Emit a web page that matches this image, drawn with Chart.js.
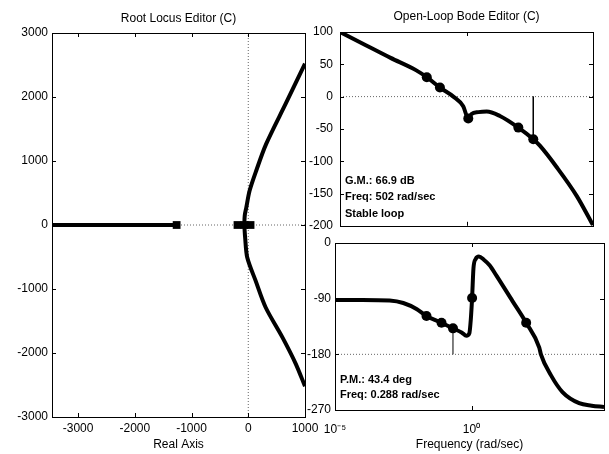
<!DOCTYPE html>
<html>
<head>
<meta charset="utf-8">
<script src="https://cdn.jsdelivr.net/npm/chart.js@4.4.1/dist/chart.umd.min.js"></script>
<style>
body { margin: 0; background: #fff; width: 609px; height: 454px; overflow: hidden; position: relative; }
canvas { position: absolute; }
</style>
</head>
<body>
<canvas id="locus" width="330" height="454" style="left:0;top:0"></canvas>
<canvas id="mag" width="319" height="240" style="left:290px;top:0"></canvas>
<canvas id="phase" width="319" height="224" style="left:290px;top:230px"></canvas>
<script>
// ---- root locus (real part / imaginary part) ----
const realAxisRe = [-3460, -1263];
const upperRe = [-70, -62, -35, 23, 140, 316, 660, 1000];
const upperIm = [0, 150, 272, 534, 848, 1267, 1895, 2520];
const lowerRe = [-70, -55, -18, 129, 305, 600, 835, 1000];
const lowerIm = [0, -200, -508, -870, -1285, -1752, -2165, -2520];
const squareRe = [-1263, -190, -70, 40];
const locusXTicks = [-3000, -2000, -1000, 0, 1000];
const locusYTicks = [-3000, -2000, -1000, 0, 1000, 2000, 3000];

// ---- open-loop bode, frequency as log10(rad/sec) ----
const magExp = [-5, -4, -3, -2, -1.57, -1.05, -0.52, -0.13, 0.07, 0.2, 0.47, 0.8, 1.32, 2.05, 2.64, 2.9, 3.56, 4.36, 5];
const magDb = [100, 80, 60, 41, 30, 14, 0, -15, -34, -27, -24, -23, -30, -48, -66, -76, -109, -154, -199];
const magMarkExp = [-1.57, -1.05, 0.07, 2.05, 2.64];
const magMarkDb = [30, 14, -34, -48, -66];

const phaseExp = [-5, -4, -3, -2.5, -2, -1.65, -1.1, -0.68, -0.35, -0.19, -0.08, -0.03, 0.02, 0.07, 0.15, 0.27, 0.45, 0.66, 0.9, 1.5, 2.0, 2.48, 2.54, 2.91, 3.33, 3.94, 4.4, 4.85];
const phaseDeg = [-92, -92, -93, -97, -107, -118, -129, -138, -145, -150, -146, -125, -89, -41, -26, -22, -27, -36, -52, -94, -129, -169, -180, -214, -241, -259, -263, -265];
const phaseMarkExp = [-1.65, -1.1, -0.68, 0.02, 2.0];
const phaseMarkDeg = [-118, -129, -138, -89, -129];

const gmExp = 2.64, gmDb = -66;     // gain margin marker
const pmExp = -0.68, pmDeg = -138;  // phase margin marker

const FONT = '"Liberation Sans", Arial, sans-serif';
Chart.defaults.font.family = FONT;
Chart.defaults.font.size = 12;
Chart.defaults.color = '#000';

const pts = (xs, ys) => xs.map((x, i) => ({x: x, y: ys[i]}));
const logPts = (es, ys) => es.map((e, i) => ({x: Math.pow(10, e), y: ys[i]}));

function curve(data, w, smooth) {
  const ds = {data: data, showLine: true, borderColor: '#000', borderWidth: w || 4, pointRadius: 0, tension: 0};
  if (smooth === 'mono') ds.cubicInterpolationMode = 'monotone';
  else if (smooth) ds.tension = smooth;
  return ds;
}
function dotted(data) {
  return {data: data, showLine: true, borderColor: '#666', borderWidth: 1, borderDash: [1, 2], pointRadius: 0};
}
function marks(data, style, r) {
  return {data: data, showLine: false, pointStyle: style, pointRadius: r, backgroundColor: '#000', borderColor: '#000', borderWidth: 0};
}

// box round the axes, with short inward ticks like matlab
const frame = {
  id: 'frame',
  afterDatasetsDraw(chart) {
    const {ctx, chartArea: a} = chart;
    const xs = chart.scales.x, ys = chart.scales.y;
    ctx.save();
    ctx.strokeStyle = '#000';
    ctx.lineWidth = 1;
    ctx.beginPath();
    xs.ticks.forEach(t => {
      const p = Math.round(xs.getPixelForValue(t.value)) + 0.5;
      ctx.moveTo(p, a.bottom); ctx.lineTo(p, a.bottom - 4);
      ctx.moveTo(p, a.top); ctx.lineTo(p, a.top + 4);
    });
    ys.ticks.forEach(t => {
      const p = Math.round(ys.getPixelForValue(t.value)) + 0.5;
      ctx.moveTo(a.left, p); ctx.lineTo(a.left + 4, p);
      ctx.moveTo(a.right, p); ctx.lineTo(a.right - 4, p);
    });
    ctx.stroke();
    ctx.strokeRect(Math.round(a.left) + 0.5, Math.round(a.top) + 0.5, Math.round(a.width), Math.round(a.height));
    ctx.restore();
  }
};

function notes(lines, dys) {
  return {
    id: 'notes',
    afterDraw(chart) {
      const {ctx, chartArea: a} = chart;
      ctx.save();
      ctx.font = 'bold 11px ' + FONT;
      ctx.fillStyle = '#000';
      ctx.textBaseline = 'middle';
      lines.forEach((s, i) => ctx.fillText(s, a.left + 5, a.bottom + dys[i]));
      ctx.restore();
    }
  };
}

function topTitle(text, pad, h) {
  return {
    type: 'linear', position: 'top', min: 0, max: 1,
    ticks: {display: false}, grid: {display: false}, border: {display: false},
    title: {display: true, text: text, font: {size: 12}, padding: {top: pad, bottom: 0}},
    afterFit: s => { s.height = h; }
  };
}

const base = {responsive: false, animation: false, devicePixelRatio: 1,
  plugins: {legend: {display: false}, tooltip: {enabled: false}}};

// ---------- root locus ----------
new Chart(document.getElementById('locus'), {
  type: 'scatter',
  data: {datasets: [
    marks(pts(squareRe, squareRe.map(() => 0)), 'rect', 5.5),
    curve(pts(realAxisRe, [0, 0])),
    curve(pts(upperRe, upperIm), 4, 0.3),
    curve(pts(lowerRe, lowerIm), 4, 0.3),
    dotted([{x: -3460, y: 0}, {x: 1000, y: 0}]),
    dotted([{x: 0, y: -3000}, {x: 0, y: 3000}])
  ]},
  options: Object.assign({}, base, {
    layout: {padding: {left: 0, right: 25, top: 0, bottom: 0}},
    scales: {
      x: {
        type: 'linear', min: -3460, max: 1000,
        grid: {display: false, drawTicks: false}, border: {display: false},
        afterBuildTicks: s => { s.ticks = locusXTicks.map(v => ({value: v})); },
        ticks: {padding: 4, autoSkip: false, maxRotation: 0, callback: v => String(v)},
        title: {display: true, text: 'Real Axis', font: {size: 12}, padding: {top: 0, bottom: 2}},
        afterFit: s => { s.height = 37; }
      },
      xt: topTitle('Root Locus Editor (C)', 11, 33),
      y: {
        type: 'linear', min: -3000, max: 3000,
        grid: {display: false, drawTicks: false}, border: {display: false},
        afterBuildTicks: s => { s.ticks = locusYTicks.map(v => ({value: v})); },
        ticks: {padding: 4, callback: v => String(v)},
        afterFit: s => { s.width = 52; }
      }
    }
  }),
  plugins: [frame]
});

// ---------- magnitude ----------
new Chart(document.getElementById('mag'), {
  type: 'scatter',
  data: {datasets: [
    marks(logPts(magMarkExp, magMarkDb), 'circle', 5),
    curve(logPts(magExp, magDb), 4, 'mono'),
    curve(logPts([gmExp, gmExp], [0, gmDb]), 1),
    dotted([{x: 1e-5, y: 0}, {x: 1e5, y: 0}])
  ]},
  options: Object.assign({}, base, {
    layout: {padding: {left: 0, right: 16, top: 0, bottom: 0}},
    scales: {
      x: {
        type: 'logarithmic', min: 1e-5, max: 1e5,
        grid: {display: false, drawTicks: false}, border: {display: false},
        afterBuildTicks: s => { s.ticks = [{value: 1e-5}, {value: 1}]; },
        ticks: {display: false},
        afterFit: s => { s.height = 10; }
      },
      xt: topTitle('Open-Loop Bode Editor (C)', 9, 32),
      y: {
        type: 'linear', min: -200, max: 100,
        grid: {display: false, drawTicks: false}, border: {display: false},
        ticks: {stepSize: 50, padding: 7, callback: v => String(v)},
        afterFit: s => { s.width = 50; }
      }
    }
  }),
  plugins: [frame, notes(['G.M.: 66.9 dB', 'Freq: 502 rad/sec', 'Stable loop'], [-45, -29, -12])]
});

// ---------- phase ----------
new Chart(document.getElementById('phase'), {
  type: 'scatter',
  data: {datasets: [
    marks(logPts(phaseMarkExp, phaseMarkDeg), 'circle', 5),
    curve(logPts(phaseExp, phaseDeg), 4, 'mono'),
    curve(logPts([pmExp, pmExp], [-180, pmDeg]), 1),
    dotted([{x: 1e-5, y: -180}, {x: 1e5, y: -180}])
  ]},
  options: Object.assign({}, base, {
    layout: {padding: {left: 0, right: 4, top: 13, bottom: 0}},
    scales: {
      x: {
        type: 'logarithmic', min: 1e-5, max: Math.pow(10, 4.85),
        grid: {display: false, drawTicks: false}, border: {display: false},
        afterBuildTicks: s => { s.ticks = [{value: 1e-5}, {value: 1}]; },
        ticks: {padding: 12, autoSkip: false, maxRotation: 0, callback: v => (v < 0.5 ? '10\u207B\u2075' : '10\u2070')},
        title: {display: true, text: 'Frequency (rad/sec)', font: {size: 12}, padding: {top: 0, bottom: 2}},
        afterFit: s => { s.height = 44; }
      },
      y: {
        type: 'linear', min: -270, max: 0,
        grid: {display: false, drawTicks: false}, border: {display: false},
        ticks: {stepSize: 90, padding: 4, callback: v => String(v)},
        afterFit: s => { s.width = 45; }
      }
    }
  }),
  plugins: [frame, notes(['P.M.: 43.4 deg', 'Freq: 0.288 rad/sec'], [-30, -15])]
});
</script>
</body>
</html>
